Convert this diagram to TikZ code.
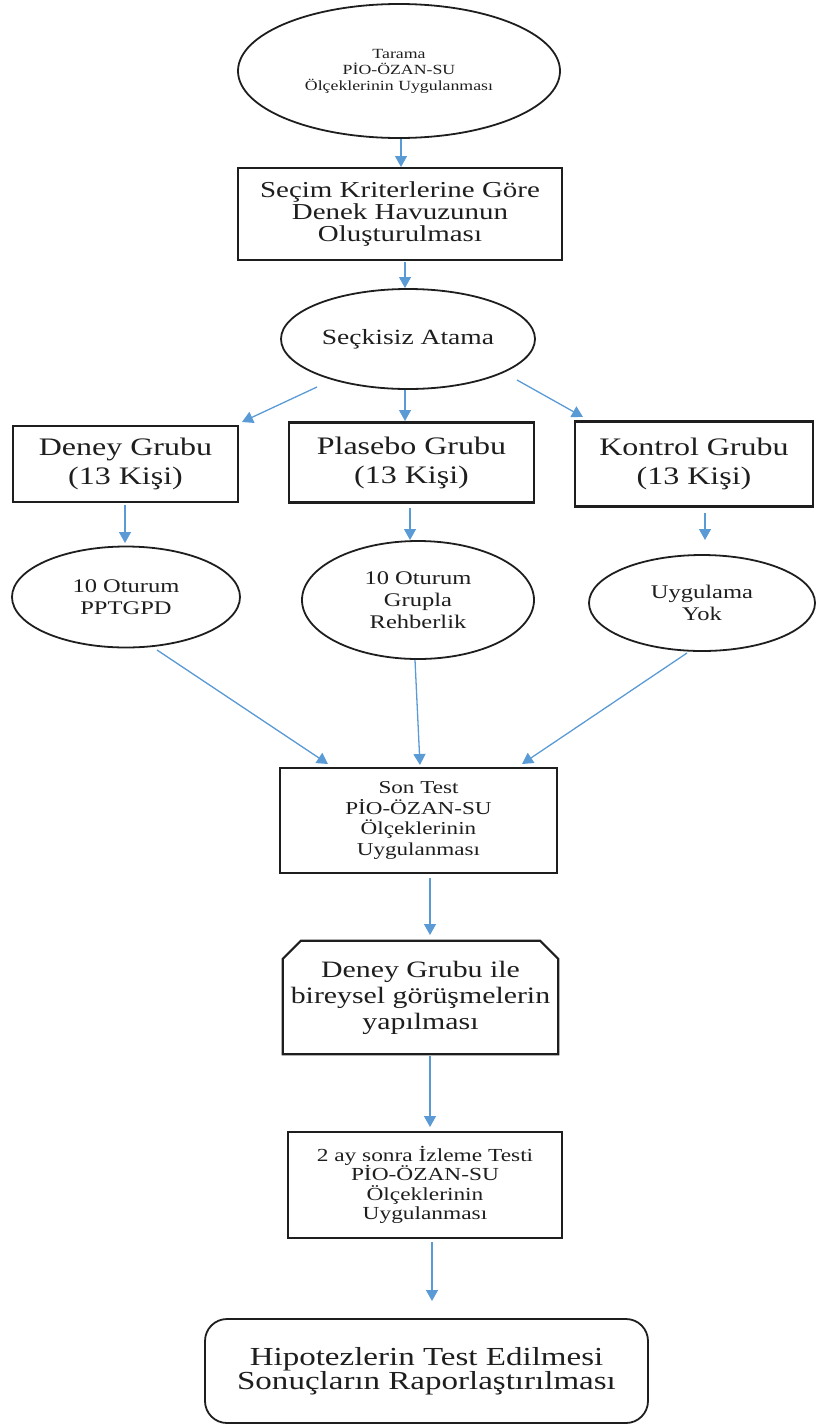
\documentclass[tikz,border=0pt]{standalone}
\usepackage{fontspec}
\setmainfont{Liberation Serif}[FakeStretch=1.27]
\usetikzlibrary{shapes.geometric,arrows.meta}
\definecolor{arrblue}{RGB}{91,155,213}
\definecolor{ink}{RGB}{30,30,30}
\tikzset{
  boxnode/.style={draw=ink, line width=2.2pt, rectangle, inner sep=0pt, align=center, text=ink},
  ellnode/.style={draw=ink, line width=1.8pt, ellipse, inner sep=0pt, align=center, text=ink},
  plainnode/.style={inner sep=0pt, align=center, text=ink},
  arr/.style={draw=arrblue, line width=1.3pt, -{Triangle[width=12pt,length=11pt]}},
}
\newcommand{\fsz}[2]{\fontsize{#1}{#2}\selectfont}
\begin{document}
\begin{tikzpicture}[x=1pt,y=-1pt]
\useasboundingbox (0,0) rectangle (816,1425);

\node[ellnode, minimum width=322pt, minimum height=134pt, font=\fsz{14}{16}] (tar) at (399,71)
  {Tarama\\PİO-ÖZAN-SU\\Ölçeklerinin Uygulanması};
\node[boxnode, minimum width=324pt, minimum height=92pt, font=\fsz{22.8}{22}] (sec) at (400,214)
  {Seçim Kriterlerine Göre\\Denek Havuzunun\\Oluşturulması};
\node[ellnode, minimum width=254pt, minimum height=100pt, font=\fsz{21.7}{24}] (ata) at (408,339)
  {Seçkisiz Atama};

\node[boxnode, minimum width=225pt, minimum height=76pt, font=\fsz{25.2}{29}] (den) at (125.5,464)
  {Deney Grubu\\(13 Kişi)};
\node[boxnode, minimum width=245pt, minimum height=80pt, font=\fsz{25.2}{29}] (pla) at (411.5,462.5)
  {Plasebo Grubu\\(13 Kişi)};
\node[boxnode, minimum width=238pt, minimum height=85pt, font=\fsz{25.2}{29}] (kon) at (694,464)
  {Kontrol Grubu\\(13 Kişi)};

\node[ellnode, minimum width=228pt, minimum height=101pt, font=\fsz{19.3}{22}] (e1) at (126,597)
  {10 Oturum\\PPTGPD};
\node[ellnode, minimum width=232pt, minimum height=118pt, font=\fsz{19.3}{22}] (e2) at (418,600)
  {10 Oturum\\Grupla\\Rehberlik};
\node[ellnode, minimum width=226pt, minimum height=96pt, font=\fsz{19.3}{22}] (e3) at (702,603)
  {Uygulama\\Yok};

\node[boxnode, minimum width=277pt, minimum height=105pt, font=\fsz{18.2}{20.5}] (son) at (418.5,820.5)
  {Son Test\\PİO-ÖZAN-SU\\Ölçeklerinin\\Uygulanması};

\node[plainnode, minimum width=275pt, minimum height=113pt, font=\fsz{23.5}{26}] (gor) at (420.5,997.5)
  {Deney Grubu ile\\bireysel görüşmelerin\\yapılması};
\draw[draw=ink, line width=2.2pt, line join=miter]
  ([xshift=18pt]gor.north west) -- ([xshift=-18pt]gor.north east)
  -- ([yshift=-18pt]gor.north east) -- (gor.south east) -- (gor.south west)
  -- ([yshift=-18pt]gor.north west) -- cycle;

\node[boxnode, minimum width=274pt, minimum height=106pt, font=\fsz{18.4}{19.5}] (izl) at (425,1185)
  {2 ay sonra İzleme Testi\\PİO-ÖZAN-SU\\Ölçeklerinin\\Uygulanması};

\node[boxnode, line width=1.8pt, rounded corners=22pt, minimum width=443pt, minimum height=104pt, font=\fsz{26}{24}] (hip) at (426.5,1371)
  {Hipotezlerin Test Edilmesi\\Sonuçların Raporlaştırılması};

% connectors
\draw[arr] ([shift={(2,68)}]tar.center) -- ([shift={(1,-47)}]sec.center);
\draw[arr] ([shift={(5,48)}]sec.center) -- ([shift={(-3,-51)}]ata.center);
\draw[arr] ([shift={(-91,48)}]ata.center) -- ([shift={(116.5,-42)}]den.center);
\draw[arr] ([shift={(-3,51)}]ata.center) -- ([shift={(-6.5,-41.5)}]pla.center);
\draw[arr] ([shift={(109,41)}]ata.center) -- ([shift={(-111,-47)}]kon.center);
\draw[arr] ([shift={(-0.5,41)}]den.center) -- ([shift={(-1,-54)}]e1.center);
\draw[arr] ([shift={(-1.5,45.5)}]pla.center) -- ([shift={(-8,-60)}]e2.center);
\draw[arr] ([shift={(11,49)}]kon.center) -- ([shift={(3,-63)}]e3.center);
\draw[arr] ([shift={(31,53)}]e1.center) -- ([shift={(-90.5,-56.5)}]son.center);
\draw[arr] ([shift={(-3,60)}]e2.center) -- ([shift={(1.5,-55.5)}]son.center);
\draw[arr] ([shift={(-15,50)}]e3.center) -- ([shift={(103.5,-56.5)}]son.center);
\draw[arr] ([shift={(11.5,57.5)}]son.center) -- ([shift={(9.5,-62.5)}]gor.center);
\draw[arr] ([shift={(9.5,58.5)}]gor.center) -- ([shift={(5,-58)}]izl.center);
\draw[arr] ([shift={(7,57)}]izl.center) -- ([shift={(5.5,-70)}]hip.center);
\end{tikzpicture}
\end{document}
